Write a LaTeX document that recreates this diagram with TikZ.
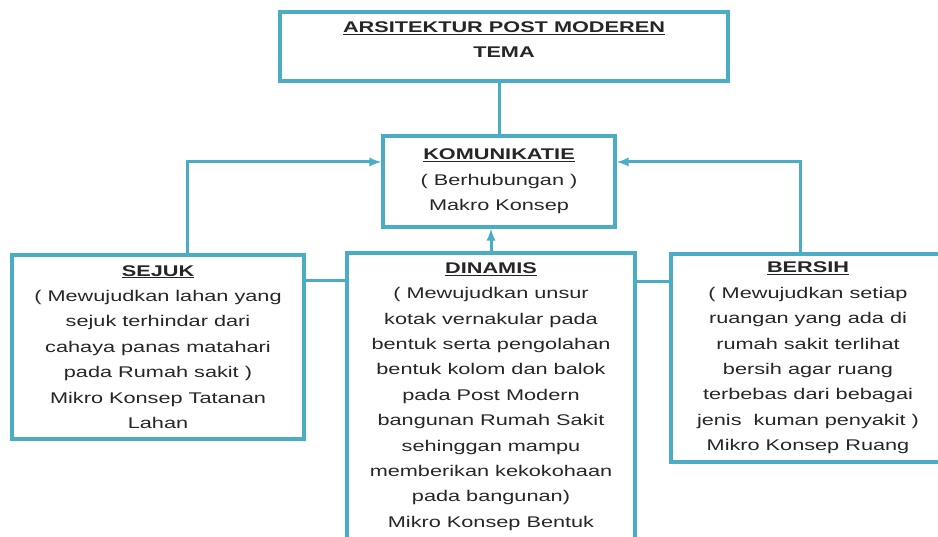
\documentclass[tikz,border=0pt]{standalone}
\usepackage{fontspec}
\setmainfont{Liberation Sans}[FakeStretch=1.4]
\usepackage{tikz}
\usetikzlibrary{positioning,calc,arrows}
\definecolor{garis}{HTML}{4BACC6}

\begin{document}
\begin{tikzpicture}[x=1pt,y=-1pt,box_node/.style={draw=garis,line width=3.5pt,align=center,inner sep=0pt,font=\fontsize{15.5}{25.4}\selectfont,text=black!85}, link/.style={draw=garis,line width=3pt}]
				\useasboundingbox (0,0) rectangle (938,537);
				\node[box_node,minimum width=448pt,minimum height=69pt](1) at (504,46.5){\underline{\textbf{ARSITEKTUR POST MODEREN}}\\\textbf{TEMA}\\[-12pt]~};
				\node[box_node,minimum width=232pt,minimum height=91pt](2) at (499,181.5){\underline{\textbf{KOMUNIKATIE}}\\( Berhubungan )\\Makro Konsep};
				\node[box_node,minimum width=292pt,minimum height=184pt](3) at (158,347){\underline{\textbf{SEJUK}}\\( Mewujudkan lahan yang\\sejuk terhindar dari\\cahaya panas matahari\\pada Rumah sakit )\\Mikro Konsep Tatanan\\Lahan};
				\node[box_node,minimum width=288pt,minimum height=287pt](4) at (491,396.5){\underline{\textbf{DINAMIS}}\\( Mewujudkan unsur\\kotak vernakular pada\\bentuk serta pengolahan\\bentuk kolom dan balok\\pada Post Modern\\bangunan Rumah Sakit\\sehinggan mampu\\memberikan kekokohaan\\pada bangunan)\\Mikro Konsep Bentuk};
				\node[box_node,minimum width=274pt,minimum height=208pt](5) at (808,358){\underline{\textbf{BERSIH}}\\( Mewujudkan setiap\\ruangan yang ada di\\rumah sakit terlihat\\bersih agar ruang\\terbebas dari bebagai\\jenis~ kuman penyakit )\\Mikro Konsep Ruang};
				% garis penghubung
				\draw[link] (2.north) -- (2.north |- 1.south);
				\draw[link,-latex] ([xshift=29pt]3.north) |- ([yshift=19.5pt]2.west);
				\draw[link,-latex] ([xshift=-8pt]5.north) |- ([yshift=19.5pt]2.east);
				\draw[link,-latex] (4.north) -- (4.north |- 2.south);
				\draw[link] ([yshift=66pt]3.east) -- ([yshift=66pt]3.east -| 4.west);
				\draw[link] ([yshift=76pt]5.west) -- ([yshift=76pt]5.west -| 4.east);
			\end{tikzpicture}
\end{document}
